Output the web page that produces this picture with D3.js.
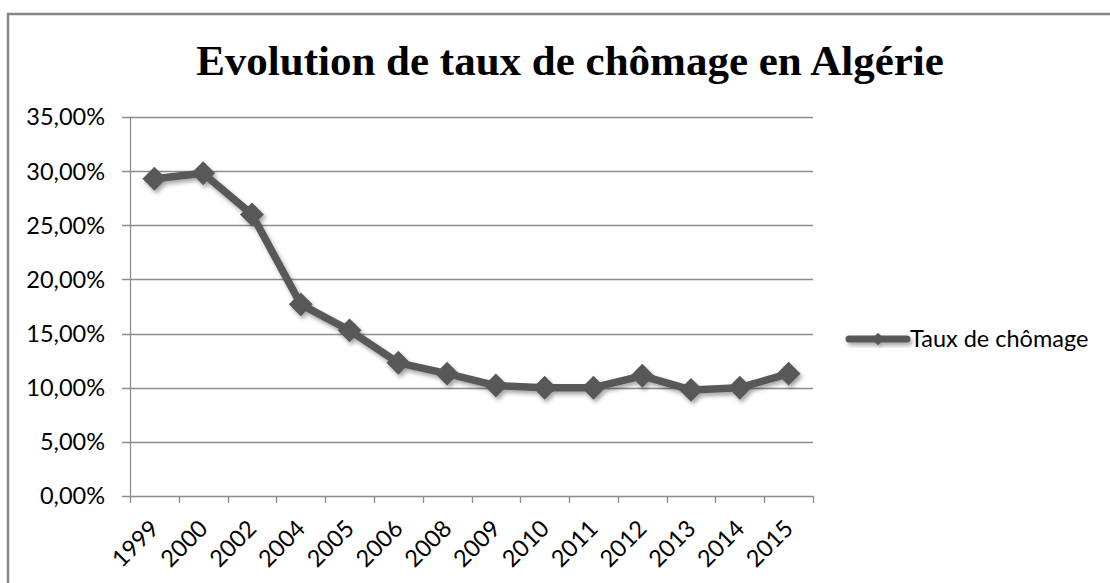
<!DOCTYPE html>
<html>
<head>
<meta charset="utf-8">
<script src="https://cdn.jsdelivr.net/npm/d3@7"></script>
<style>
  body { margin: 0; background: #fff; }
  svg { display: block; }
</style>
</head>
<body>
<div id="chart-area"></div>
<script>
// data
var years = ["1999", "2000", "2002", "2004", "2005", "2006", "2008", "2009", "2010", "2011", "2012", "2013", "2014", "2015"];
var rates = [29.3, 29.8, 26.0, 17.7, 15.3, 12.3, 11.3, 10.2, 10.0, 10.0, 11.1, 9.8, 10.0, 11.3];
var yTicks = [0, 5, 10, 15, 20, 25, 30, 35];
var seriesName = "Taux de chômage";
var title = "Evolution de taux de chômage en Algérie";

var W = 1110, H = 583;
var margin = {top: 117, left: 130},
    width = 683,
    height = 379;
var labelFont = "23.5px";

var svg = d3.select("#chart-area")
  .append("svg")
    .attr("width", W)
    .attr("height", H);

// drop shadow like the spreadsheet one
var defs = svg.append("defs");
var f = defs.append("filter").attr("id", "shadow")
    .attr("x", "-20%").attr("y", "-20%").attr("width", "140%").attr("height", "140%");
f.append("feDropShadow")
    .attr("dx", 2).attr("dy", 3).attr("stdDeviation", 2)
    .attr("flood-color", "#000").attr("flood-opacity", 0.35);

svg.append("rect")
    .attr("width", W).attr("height", H).attr("fill", "#fff");

// chart frame
svg.append("rect")
    .attr("x", 8).attr("y", 14)
    .attr("width", W + 20).attr("height", H + 20)
    .attr("fill", "none")
    .attr("stroke", "#868686")
    .attr("stroke-width", 2.5);

svg.append("text")
    .attr("x", 570)
    .attr("y", 75)
    .attr("text-anchor", "middle")
    .attr("font-family", "'Liberation Serif', 'Times New Roman', serif")
    .attr("font-weight", "bold")
    .attr("font-size", "43px")
    .attr("fill", "#000")
    .text(title);

var g = svg.append("g")
    .attr("transform", "translate(" + margin.left + "," + margin.top + ")");

var x = d3.scaleBand()
    .domain(years)
    .range([0, width]);

var y = d3.scaleLinear()
    .domain([0, 35])
    .range([height, 0]);

// gridlines + left ticks
g.append("g")
  .selectAll("line")
  .data(yTicks)
  .enter()
  .append("line")
    .attr("x1", -8)
    .attr("x2", width)
    .attr("y1", function(d) { return Math.round(y(d)) + 0.5; })
    .attr("y2", function(d) { return Math.round(y(d)) + 0.5; })
    .attr("stroke", "#8c8c8c")
    .attr("stroke-width", 1.3);

g.append("g")
  .selectAll("text")
  .data(yTicks)
  .enter()
  .append("text")
    .attr("x", -25)
    .attr("y", function(d) { return y(d); })
    .attr("dy", "0.36em")
    .attr("text-anchor", "end")
    .attr("font-family", "Lato, sans-serif")
    .attr("font-size", labelFont)
    .attr("fill", "#000")
    .text(function(d) { return d.toFixed(2).replace(".", ",") + "%"; });

// y axis line
g.append("line")
    .attr("x1", 0.5).attr("x2", 0.5)
    .attr("y1", 0).attr("y2", height)
    .attr("stroke", "#8c8c8c")
    .attr("stroke-width", 1.3);

// x axis ticks at band edges
var edges = years.map(function(d) { return x(d); }).concat([width]);
g.append("g")
  .selectAll("line")
  .data(edges)
  .enter()
  .append("line")
    .attr("x1", function(d) { return Math.round(d) + 0.5; })
    .attr("x2", function(d) { return Math.round(d) + 0.5; })
    .attr("y1", height)
    .attr("y2", height + 7)
    .attr("stroke", "#8c8c8c")
    .attr("stroke-width", 1.3);

g.append("g")
  .selectAll("text")
  .data(years)
  .enter()
  .append("text")
    .attr("text-anchor", "end")
    .attr("font-family", "Lato, sans-serif")
    .attr("font-size", labelFont)
    .attr("fill", "#000")
    .attr("transform", function(d) {
      return "translate(" + (x(d) + x.bandwidth() / 2 + 6) + "," + (height + 34) + ") rotate(-45)";
    })
    .text(function(d) { return d; });

// series
var line = d3.line()
    .x(function(d, i) { return x(years[i]) + x.bandwidth() / 2; })
    .y(function(d) { return y(d); });

var series = g.append("g").attr("filter", "url(#shadow)");

series.append("path")
    .datum(rates)
    .attr("d", line)
    .attr("fill", "none")
    .attr("stroke", "#595959")
    .attr("stroke-width", 7.5)
    .attr("stroke-linejoin", "round");

var diamond = d3.symbol().type(d3.symbolSquare).size(285);
series.selectAll("path.pt")
  .data(rates)
  .enter()
  .append("path")
    .attr("class", "pt")
    .attr("d", diamond)
    .attr("transform", function(d, i) {
      return "translate(" + (x(years[i]) + x.bandwidth() / 2) + "," + y(d) + ") rotate(45)";
    })
    .attr("fill", "#595959");

// legend
var leg = svg.append("g").attr("filter", "url(#shadow)");
leg.append("line")
    .attr("x1", 849).attr("x2", 907)
    .attr("y1", 339).attr("y2", 339)
    .attr("stroke", "#595959")
    .attr("stroke-width", 7)
    .attr("stroke-linecap", "round");
leg.append("path")
    .attr("d", d3.symbol().type(d3.symbolSquare).size(80))
    .attr("transform", "translate(878,339) rotate(45)")
    .attr("fill", "#595959");

svg.append("text")
    .attr("x", 910)
    .attr("y", 339)
    .attr("dy", "0.36em")
    .attr("font-family", "Lato, sans-serif")
    .attr("font-size", labelFont)
    .attr("fill", "#000")
    .text(seriesName);
</script>
</body>
</html>
